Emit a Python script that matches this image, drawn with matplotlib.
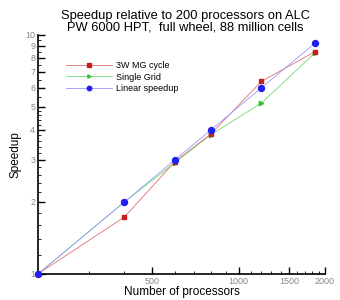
import matplotlib
matplotlib.use('Agg')
import matplotlib.pyplot as plt
from matplotlib.ticker import FixedLocator, NullFormatter

# data
procs   = [200, 400, 600, 800, 1200, 1840]
mg      = [1.0, 1.73, 2.95, 3.85, 6.38, 8.49]
single  = [1.0, 2.0, 2.92, 3.82, 5.18, 8.38]
linear  = [1.0, 2.0, 3.0, 4.0, 6.0, 9.2]

x_major = [500, 1000, 1500, 2000]
x_minor = [v for v in range(300, 2000, 100) if v not in x_major]
y_major = list(range(1, 11))
y_minor = [1.2, 1.4, 1.6, 1.8, 2.2, 2.4, 2.6, 2.8, 3.2, 3.4, 3.6, 3.8,
           4.2, 4.4, 4.6, 4.8, 5.5, 6.5, 7.5, 8.5, 9.5]

plt.rcParams['font.family'] = ['Liberation Sans', 'DejaVu Sans']

fig = plt.figure(figsize=(3.4, 3.0), dpi=100)
ax = fig.add_axes([0.112, 0.087, 0.844, 0.797])

ax.plot(procs, mg, color='#e07070', lw=0.6, marker='s', ms=3.2,
        mfc='#c81e1e', mec='#c81e1e', label='3W MG cycle', zorder=3, clip_on=False)
ax.plot(procs, single, color='#70dd70', lw=0.6, marker='>', ms=3.2,
        mfc='#30c030', mec='#30c030', label='Single Grid', zorder=2, clip_on=False)
ax.plot(procs, linear, color='#9898ff', lw=0.6, marker='o', ms=4.3,
        mfc='#2020f0', mec='#2020f0', label='Linear speedup', zorder=4, clip_on=False)

ax.set_xscale('log')
ax.set_yscale('log')
ax.set_xlim(200, 2000)
ax.set_ylim(1, 10)

ax.xaxis.set_major_locator(FixedLocator(x_major))
ax.xaxis.set_minor_locator(FixedLocator(x_minor))
ax.xaxis.set_minor_formatter(NullFormatter())
ax.set_xticklabels([str(v) for v in x_major])
ax.yaxis.set_major_locator(FixedLocator(y_major))
ax.yaxis.set_minor_locator(FixedLocator(y_minor))
ax.yaxis.set_minor_formatter(NullFormatter())
ax.set_yticklabels([str(v) for v in y_major])

ax.tick_params(which='major', direction='in', length=5, width=1.0,
               labelsize=6.5, labelcolor='#888888', pad=2)
ax.tick_params(which='minor', direction='in', length=2.5, width=0.6)

for s in ['top', 'right']:
    ax.spines[s].set_visible(False)
for s in ['left', 'bottom']:
    ax.spines[s].set_linewidth(1.2)

ax.set_xlabel('Number of processors', fontsize=8.5, labelpad=0)
ax.set_ylabel('Speedup', fontsize=8.5, labelpad=3)

fig.text(0.545, 0.967, 'Speedup relative to 200 processors on ALC\nPW 6000 HPT,  full wheel, 88 million cells',
         ha='center', va='top', fontsize=9.3, linespacing=0.95)

ax.legend(loc='upper left', bbox_to_anchor=(0.07, 0.925), frameon=False,
          fontsize=6.5, handlelength=5.1, handletextpad=0.45, labelspacing=0.3,
          markerscale=0.75)

fig.savefig('out.png', dpi=100)
